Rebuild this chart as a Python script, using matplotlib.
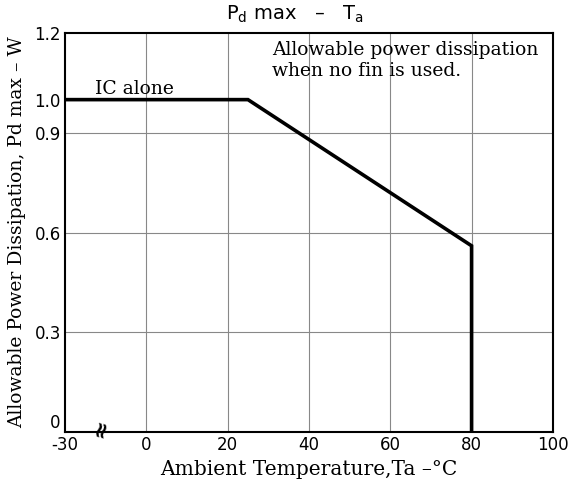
import matplotlib
matplotlib.use("Agg")
import matplotlib.pyplot as plt
import numpy as np

# derating curve, IC alone (no fin)
temps = [-30, 25, 80, 80]
pd_max = [1.0, 1.0, 0.56, 0.0]

xticks = [-30, 0, 20, 40, 60, 80, 100]
yticks = [0, 0.3, 0.6, 0.9, 1.0, 1.2]
ytick_labels = ["0", "0.3", "0.6", "0.9", "1.0", "1.2"]

# broken axis: -30..0 squeezed into 20 units
def fwd(t):
    t = np.asarray(t, dtype=float)
    return np.where(t < 0, t * 2 / 3, t)

def inv(x):
    x = np.asarray(x, dtype=float)
    return np.where(x < 0, x * 3 / 2, x)

fig = plt.figure(figsize=(5.7, 4.88), dpi=100)
ax = fig.add_axes([0.114, 0.115, 0.856, 0.817])
ax.set_xscale("function", functions=(fwd, inv))
ax.set_xlim(-30, 100)
ax.set_ylim(0, 1.2)

for x in [0, 20, 40, 60, 80]:
    ax.axvline(x, color="#888888", lw=0.8, zorder=1)
for y in [0.3, 0.6, 0.9]:
    ax.axhline(y, color="#888888", lw=0.8, zorder=1)

ax.plot(temps, pd_max, color="black", lw=2.6, solid_joinstyle="miter", zorder=3)

ax.set_xticks(xticks)
ax.set_xticklabels([str(v) for v in xticks])
ax.set_yticks(yticks)
ax.set_yticklabels(ytick_labels)
ax.tick_params(length=0, labelsize=12, pad=3)
ax.get_yticklabels()[0].set_va("bottom")
for s in ax.spines.values():
    s.set_linewidth(1.5)

serif = "DejaVu Serif"
ax.set_xlabel("Ambient Temperature,Ta \u2013\u00b0C", family=serif, fontsize=14.5, labelpad=4)
ax.set_ylabel("Allowable Power Dissipation, Pd max \u2013 W", family=serif, fontsize=13.5, labelpad=6)
fig.text(295 / 570, 1 - 14 / 488, "P$_\\mathregular{d}$ max   \u2013   T$_\\mathregular{a}$",
         fontsize=14, ha="center", va="center")

ax.text(-19, 1.005, "IC alone", family=serif, fontsize=13.5, ha="left", va="bottom")
ax.text(31, 1.175, "Allowable power dissipation\nwhen no fin is used.", family=serif,
        fontsize=13.5, ha="left", va="top", linespacing=1.2)

# axis break mark
ax.text(-17, 0.012, "\u2248", fontsize=16, fontweight="bold", rotation=75,
        ha="center", va="center", clip_on=False, zorder=4)

fig.savefig("out.png", dpi=100)
